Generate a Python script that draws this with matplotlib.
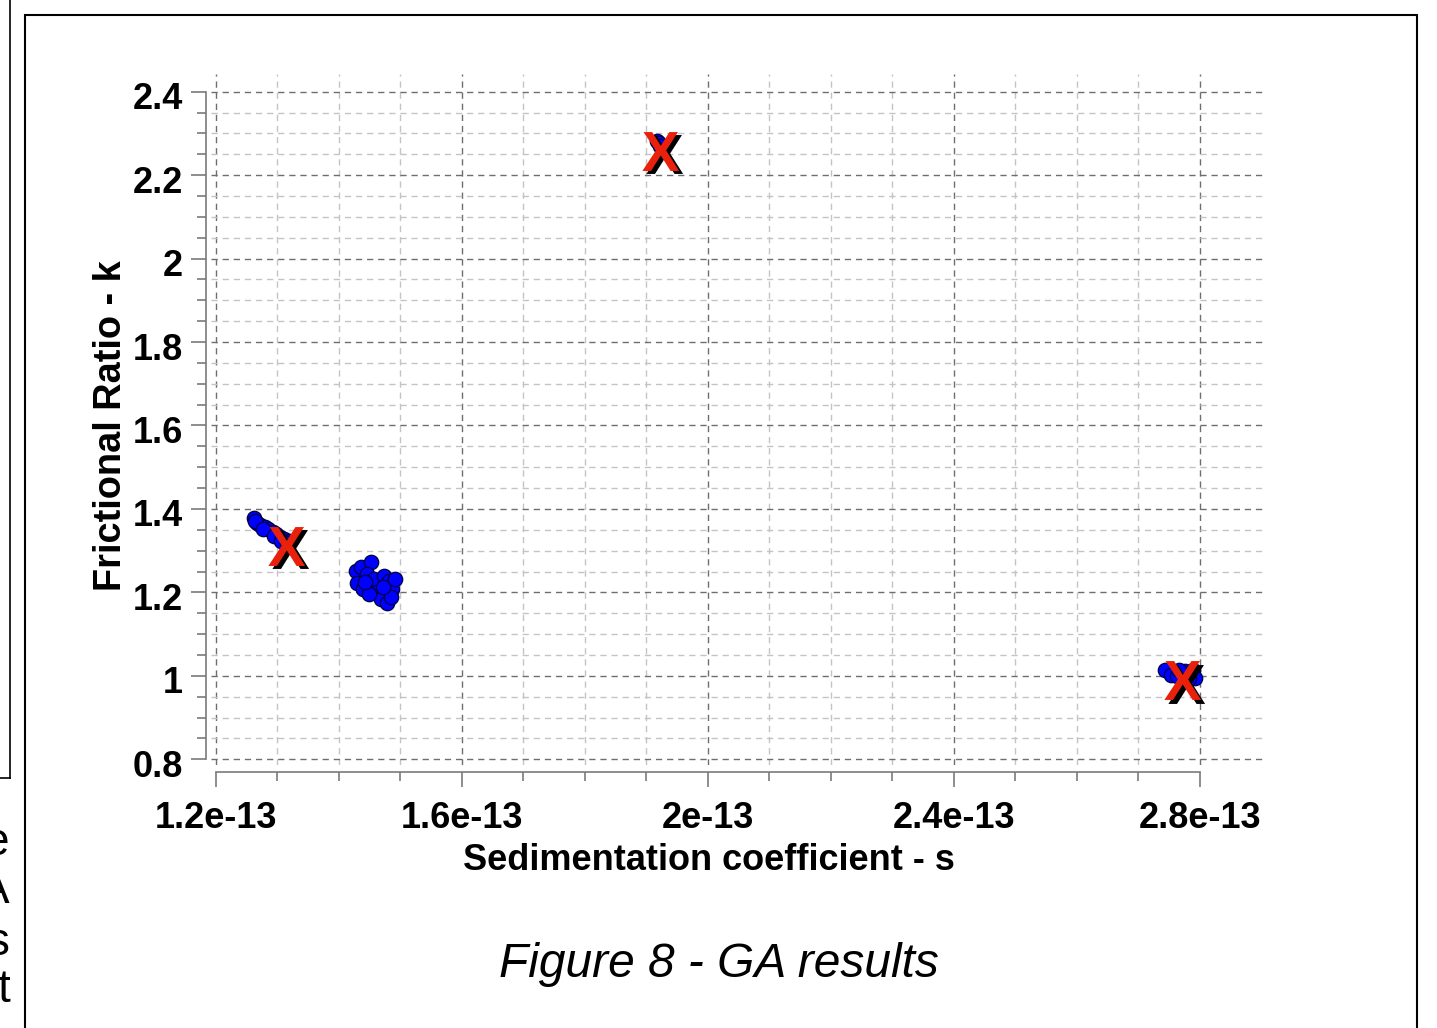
import matplotlib
matplotlib.use("Agg")
import matplotlib.pyplot as plt
import numpy as np
from matplotlib.ticker import MultipleLocator, FixedLocator, FuncFormatter
from matplotlib.textpath import TextPath
from matplotlib.font_manager import FontProperties
from matplotlib.path import Path
from matplotlib.patches import Rectangle
from matplotlib.lines import Line2D
import matplotlib.transforms as mtransforms

# GA solutions (sedimentation coefficient s, frictional ratio k)
s_left = [1.262, 1.266, 1.272, 1.279, 1.285, 1.292, 1.298, 1.304, 1.311, 1.318,
          1.264, 1.276, 1.295, 1.306, 1.316]
k_left = [1.379, 1.366, 1.362, 1.357, 1.351, 1.345, 1.340, 1.333, 1.328, 1.322,
          1.370, 1.352, 1.335, 1.322, 1.318]

s_mid = [1.428, 1.436, 1.452, 1.446, 1.429, 1.439, 1.457, 1.462, 1.473, 1.481,
         1.486, 1.468, 1.478, 1.485, 1.449, 1.491, 1.442, 1.472]
k_mid = [1.252, 1.262, 1.274, 1.245, 1.223, 1.209, 1.233, 1.202, 1.240, 1.228,
         1.209, 1.185, 1.175, 1.190, 1.195, 1.233, 1.226, 1.214]

s_top = [1.917, 1.920, 1.922]
k_top = [2.283, 2.276, 2.270]

s_right = [2.743, 2.753, 2.763, 2.776, 2.789, 2.792, 2.766, 2.782]
k_right = [1.013, 1.003, 0.999, 1.011, 1.013, 0.996, 1.015, 0.994]

# centres of the three solutes
s_best = [1.314, 1.922, 2.771]
k_best = [1.312, 2.259, 0.989]

SCALE = 1e-13

plt.rcParams['font.family'] = ['Liberation Sans', 'DejaVu Sans']

W, H = 1437, 1028
fig = plt.figure(figsize=(W / 100, H / 100), dpi=100)
ax = fig.add_axes([211 / W, 1 - 765 / H, (1265 - 211) / W, (765 - 74) / H])

ax.set_xlim(1.1919 * SCALE, 2.9057 * SCALE)
ax.set_ylim(0.7863, 2.4424)

# grid, minor x ticks only over the spine range
ax.xaxis.set_major_locator(MultipleLocator(0.4 * SCALE))
ax.xaxis.set_minor_locator(FixedLocator(np.arange(12, 29) * 0.1 * SCALE))
ax.yaxis.set_major_locator(MultipleLocator(0.2))
ax.yaxis.set_minor_locator(MultipleLocator(0.05))
ax.grid(which='major', color='#6e6e6e', linestyle=(0, (4.5, 3.5)), linewidth=1.0)
ax.grid(which='minor', color='#c4c4c4', linestyle=(0, (4.5, 3.5)), linewidth=1.0)
ax.set_axisbelow(True)

ax.xaxis.set_major_formatter(FuncFormatter(lambda v, p: '%ge-13' % round(v / SCALE, 3)))
ax.yaxis.set_major_formatter(FuncFormatter(lambda v, p: '%g' % round(v, 3)))

for side in ['top', 'right']:
    ax.spines[side].set_visible(False)
ax.spines['left'].set_position(('outward', 3.6))
ax.spines['bottom'].set_position(('outward', 5))
ax.spines['left'].set_bounds(0.8, 2.4)
ax.spines['bottom'].set_bounds(1.2 * SCALE, 2.8 * SCALE)
for side in ['left', 'bottom']:
    ax.spines[side].set_color('#7a7a7a')
    ax.spines[side].set_linewidth(1.2)

ax.tick_params(which='major', direction='out', length=10.5, width=1.2, color='#7a7a7a',
               labelsize=26, labelcolor='black')
ax.tick_params(which='minor', direction='out', length=6.2, width=1.2, color='#7a7a7a')
ax.tick_params(axis='y', which='major', pad=6)
ax.tick_params(axis='x', which='major', pad=10.5)
for lab in ax.get_xticklabels() + ax.get_yticklabels():
    lab.set_fontweight('bold')

# y tick labels sit a little below their ticks
drop = mtransforms.ScaledTranslation(0, -4 / 100, fig.dpi_scale_trans)
for tick in ax.yaxis.get_major_ticks():
    tick.label1.set_transform(tick.label1.get_transform() + drop)

ax.set_xlabel('Sedimentation coefficient - s', fontsize=26, fontweight='bold')
ax.set_ylabel('Frictional Ratio - k', fontsize=27.3, fontweight='bold')
ax.xaxis.set_label_coords((709 - 211) / 1054, -0.113)
ax.yaxis.set_label_coords(-0.078, (765 - 426) / 691)

# solution clouds
for s, k in [(s_left, k_left), (s_mid, k_mid), (s_top, k_top), (s_right, k_right)]:
    ax.plot(np.array(s) * SCALE, k, 'o', markersize=10.4, markerfacecolor='#0000ff',
            markeredgecolor='#000040', markeredgewidth=0.9, zorder=3)

# bold "X" glyph as marker, centred on its own extents
xp = TextPath((0, 0), 'X', prop=FontProperties(family='Liberation Sans', weight='bold'))
v = xp.vertices.copy()
v -= (v.min(axis=0) + v.max(axis=0)) / 2
xmark = Path(v, xp.codes)

shadow = mtransforms.offset_copy(ax.transData, fig=fig, x=2.6, y=-2.6, units='points')
ax.plot(np.array(s_best) * SCALE, k_best, linestyle='none', marker=xmark, markersize=28,
        markerfacecolor='black', markeredgewidth=0, transform=shadow, zorder=4)
ax.plot(np.array(s_best) * SCALE, k_best, linestyle='none', marker=xmark, markersize=28,
        markerfacecolor='#e8200c', markeredgewidth=0, zorder=5)

# page frame and caption
fig.add_artist(Rectangle((25 / W, -0.02), (1417 - 25) / W, 1 - 15 / H + 0.02,
                         transform=fig.transFigure, fill=False, edgecolor='black', linewidth=1.5))
fig.add_artist(Line2D([10 / W, 10 / W], [1.0, 1 - 778 / H], transform=fig.transFigure,
                      color='black', linewidth=1.2))
fig.add_artist(Line2D([0, 10 / W], [1 - 778 / H, 1 - 778 / H], transform=fig.transFigure,
                      color='black', linewidth=1.2))
fig.text(719 / W, 1 - 977 / H, 'Figure 8 - GA results', fontsize=34.5, style='italic',
         ha='center', va='baseline')
for ch, yb in [('e', 855), ('A', 903), ('s', 955), ('t', 1002)]:
    fig.text(10 / W, 1 - yb / H, ch, fontsize=33, ha='right', va='baseline')

fig.savefig('out.png', dpi=100)
